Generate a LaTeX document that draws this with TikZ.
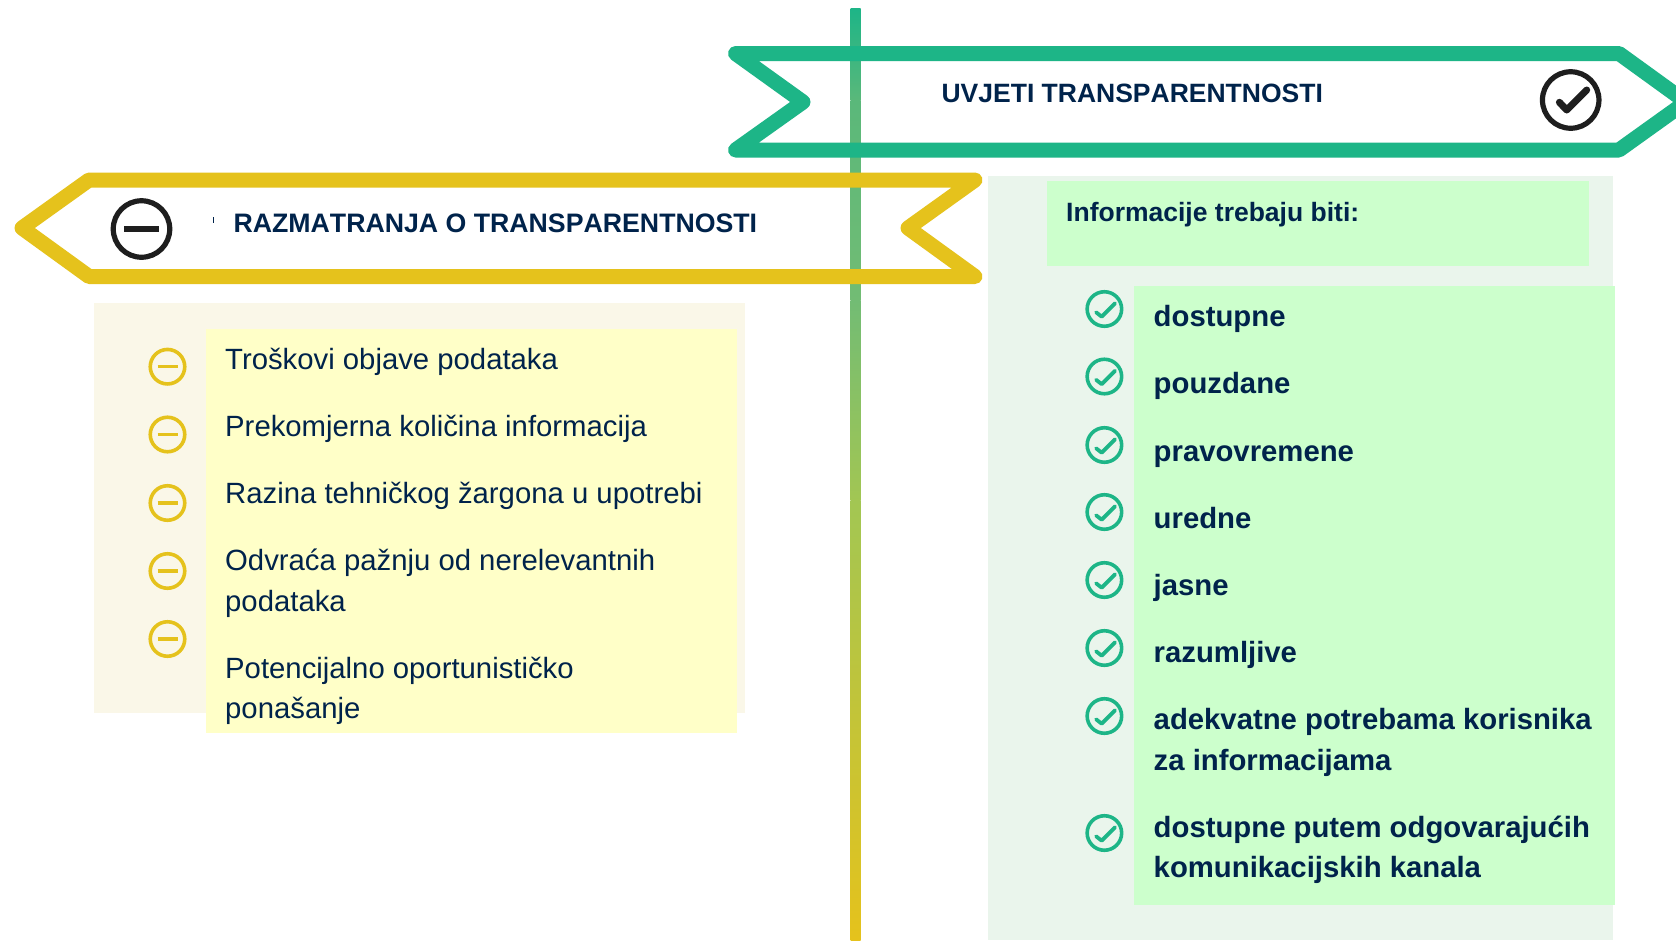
\documentclass[tikz,border=0pt]{standalone}
\usepackage{fontspec}
\setmainfont{Liberation Sans}
\definecolor{navy}{HTML}{00234B}
\definecolor{grn}{HTML}{1DB587}
\definecolor{ylw}{HTML}{E5C21C}
\definecolor{poleA}{HTML}{5AB87A}
\definecolor{poleB}{HTML}{72BC74}
\definecolor{poleC}{HTML}{A2C653}
\definecolor{panelY}{HTML}{FAF7E8}
\definecolor{boxY}{HTML}{FFFFC8}
\definecolor{panelG}{HTML}{EAF5EC}
\definecolor{boxG}{HTML}{CCFFCC}
\definecolor{blk}{HTML}{1E1E1E}
\tikzset{
  banner/.style={line width=15pt,line join=round,line cap=round},
  itemL/.style={anchor=base west,inner sep=0pt,text=navy,font=\fontsize{29.3}{35}\selectfont},
  itemR/.style={itemL,font=\fontsize{29.3}{35}\selectfont\bfseries},
  head/.style={itemL,font=\fontsize{26.5}{32}\selectfont\bfseries\addfontfeature{Kerning=Off}},
  headwide/.style={itemL,font=\fontsize{26.7}{32}\selectfont\bfseries\addfontfeature{Kerning=Off}},
  smallc/.style={circle,draw=#1,line width=3.6pt,minimum size=34.5pt,inner sep=0pt},
  bigc/.style={circle,draw=blk,line width=5.2pt,minimum size=56.5pt,inner sep=0pt},
}
\begin{document}
\begin{tikzpicture}[x=1pt,y=-1pt]
\clip (0,0) rectangle (1676,940);
\fill[white] (0,0) rectangle (1676,940);
% panels
\fill[panelY] (94,303) rectangle (745,713);
\fill[boxY] (206,329) rectangle (737,733);
\fill[panelG] (987.5,176) rectangle (1613,940);
\fill[boxG] (1047,181) rectangle (1589,266);
\fill[boxG] (1134,286) rectangle (1615,905);
% pole
\shade[top color=grn,bottom color=poleA] (850.5,8) rectangle (860.5,100.5);
\shade[top color=poleA,bottom color=poleB] (850.5,100) rectangle (860.5,300.5);
\shade[top color=poleB,bottom color=poleC] (850.5,300) rectangle (860.5,500.5);
\shade[top color=poleC,bottom color=ylw] (850.5,500) rectangle (860.5,940);
% banners
\draw[banner,draw=grn] (735.5,53.5) -- (1619,53.5) -- (1686,102) -- (1619,150) -- (735.5,150) -- (803,102) -- cycle;
\draw[banner,draw=ylw] (975,180) -- (89,180) -- (22,228) -- (89,276.5) -- (975,276.5) -- (908,228) -- cycle;
% heads
\node[head] (h1) at (941.4,102) {UVJETI TRANSPARENTNOSTI};
\node[headwide] (h2) at (233.4,232) {RAZMATRANJA O TRANSPARENTNOSTI};
\fill[navy] (212.5,216.5) rectangle (213.5,222.5);
\node[head] (h3) at (1066,221) {Informacije trebaju biti:};
% big icons
\node[bigc] (bigok) at (1570.7,100) {};
\draw[blk,line width=7pt,line cap=round,line join=round] ([xshift=-11.3pt,yshift=-2.3pt]bigok.center) -- ([xshift=-4pt,yshift=-10pt]bigok.center) -- ([xshift=16pt,yshift=10pt]bigok.center);
\node[bigc] (bigno) at (141.5,229) {};
\draw[blk,line width=6.5pt] ([xshift=-17.5pt]bigno.center) -- ([xshift=17.5pt]bigno.center);
% left list
\foreach \n/\yy in {1/366.7,2/434.5,3/503,4/571,5/639}{
  \node[smallc=ylw] (m\n) at (167.5,\yy) {};
  \draw[ylw,line width=3.3pt] ([xshift=-10pt]m\n.center) -- ([xshift=10pt]m\n.center);
}
\node[itemL] (l1) at (225,369) {Troškovi objave podataka};
\node[itemL] (l2) at (225,436) {Prekomjerna količina informacija};
\node[itemL] (l3) at (225,503) {Razina tehničkog žargona u upotrebi};
\node[itemL] (l4) at (225,570) {Odvraća pažnju od nerelevantnih};
\node[itemL] (l4b) at (225,611) {podataka};
\node[itemL] (l5) at (225,678) {Potencijalno oportunističko};
\node[itemL] (l5b) at (225,718) {ponašanje};
% right list
\foreach \n/\yy in {1/309,2/376.5,3/445,4/512,5/580,6/648,7/716,8/833}{
  \node[smallc=grn] (c\n) at (1104.4,\yy) {};
  \draw[grn,line width=3.8pt,line cap=round,line join=round] ([xshift=-8.3pt,yshift=-3.3pt]c\n.center) -- ([xshift=-2.7pt,yshift=-7.7pt]c\n.center) -- ([xshift=10.7pt,yshift=5.7pt]c\n.center);
}
\node[itemR] (r1) at (1153.5,326) {dostupne};
\node[itemR] (r2) at (1153.5,393) {pouzdane};
\node[itemR] (r3) at (1153.5,461) {pravovremene};
\node[itemR] (r4) at (1153.5,528) {uredne};
\node[itemR] (r5) at (1153.5,595) {jasne};
\node[itemR] (r6) at (1153.5,662) {razumljive};
\node[itemR] (r7) at (1153.5,729) {adekvatne potrebama korisnika};
\node[itemR] (r7b) at (1153.5,770) {za informacijama};
\node[itemR] (r8) at (1153.5,837) {dostupne putem odgovarajućih};
\node[itemR] (r8b) at (1153.5,877) {komunikacijskih kanala};
\end{tikzpicture}
\end{document}
